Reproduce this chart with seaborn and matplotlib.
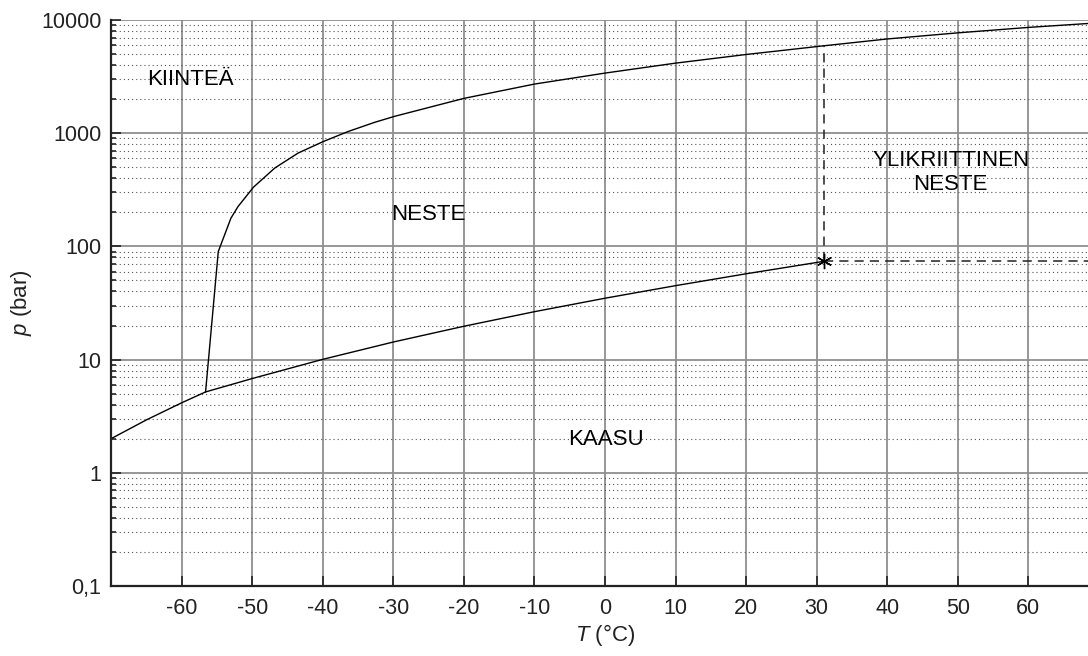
import seaborn as sns
import matplotlib.pyplot as plt
import matplotlib.ticker as mticker
import pandas as pd
import numpy as np

# CO2 phase diagram
subl_T = [-70, -65, -60, -56.6]
subl_p = [2.0, 2.93, 4.15, 5.18]

vap_T = [-56.6, -50, -40, -30, -20, -10, 0, 10, 20, 30, 31]
vap_p = [5.18, 6.8, 10.05, 14.3, 19.7, 26.5, 34.85, 45.0, 57.3, 72.1, 73.8]

melt_T = [-56.6, -54.8, -53.0, -52.0, -49.8, -46.8, -43.5, -39.9, -36.4, -32.6,
          -29.8, -20, -10, 0, 10, 20, 31, 40, 50, 60, 70]
melt_p = [5.18, 90, 178, 225, 334, 492, 667, 845, 1035, 1250,
          1410, 2030, 2716, 3396, 4159, 4958, 5917, 6800, 7700, 8600, 9450]

crit_T, crit_p = 31, 73.8
crit_top = 5917

ytick_vals = [0.1, 1, 10, 100, 1000, 10000]
ytick_labels = ['0,1', '1', '10', '100', '1000', '10000']
xtick_vals = list(range(-60, 70, 10))

regions = [("KIINTEÄ", -58.8, 2960), ("NESTE", -25, 190),
           ("YLIKRIITTINEN\nNESTE", 49, 450), ("KAASU", 0.2, 1.96)]

sns.set_theme(style='white')
plt.rcParams['font.family'] = ['Liberation Sans', 'DejaVu Sans']
plt.rcParams['mathtext.fontset'] = 'custom'
plt.rcParams['mathtext.rm'] = 'Liberation Sans'
plt.rcParams['mathtext.it'] = 'Liberation Sans:italic'
plt.rcParams['axes.unicode_minus'] = False

fig = plt.figure(figsize=(10.88, 6.56), dpi=100)
ax = fig.add_axes([111 / 1088, 1 - 586 / 656, 988 / 1088, 566 / 656])

subl = pd.DataFrame({'T': subl_T, 'p': subl_p})
vap = pd.DataFrame({'T': vap_T, 'p': vap_p})
melt = pd.DataFrame({'T': melt_T, 'p': melt_p})
for df in (subl, vap, melt):
    sns.lineplot(data=df, x='T', y='p', ax=ax, color='black', lw=1.0,
                 estimator=None, sort=False)

dash = dict(color='#222222', lw=1.1, ls=(0, (6, 4)))
ax.plot([crit_T, crit_T], [crit_p, crit_top], **dash)
ax.plot([crit_T, 70], [crit_p, crit_p], **dash)
ax.plot([crit_T], [crit_p], marker=(6, 2, 0), ms=11, mew=1.0,
        color='black', ls='none', zorder=5)

ax.set_yscale('log')
ax.set_xlim(-70, 70)
ax.set_ylim(0.1, 10000)
ax.set_xticks(xtick_vals)
ax.set_yticks(ytick_vals)
ax.set_yticklabels(ytick_labels)
ax.yaxis.set_minor_locator(mticker.LogLocator(base=10, subs=range(2, 10)))
ax.yaxis.set_minor_formatter(mticker.NullFormatter())

ax.set_axisbelow(True)
ax.grid(which='major', color='#8f8f8f', lw=1.3, ls='-')
ax.grid(which='minor', axis='y', color='#555555', lw=0.8, ls=(0, (1, 2.7)))

for s in ('top', 'right'):
    ax.spines[s].set_visible(False)
for s in ('left', 'bottom'):
    ax.spines[s].set_color('#222222')
    ax.spines[s].set_linewidth(1.6)

ax.tick_params(which='both', direction='in', left=True, bottom=True,
               color='#222222', width=1.2, labelsize=15.5, labelcolor='#222222')
ax.tick_params(which='major', length=7.5)
ax.tick_params(which='minor', length=3.5)
ax.tick_params(axis='x', pad=9)
ax.tick_params(axis='y', pad=7)

ax.set_xlabel(r'$\it{T}$ (°C)', fontsize=16, color='#222222', labelpad=2)
ax.set_ylabel(r'$\it{p}$ (bar)', fontsize=16, color='#222222', labelpad=5)

for txt, x, y in regions:
    ax.text(x, y, txt, fontsize=16, ha='center', va='center',
            color='black', linespacing=1.15)

fig.savefig('out.png', dpi=100)
